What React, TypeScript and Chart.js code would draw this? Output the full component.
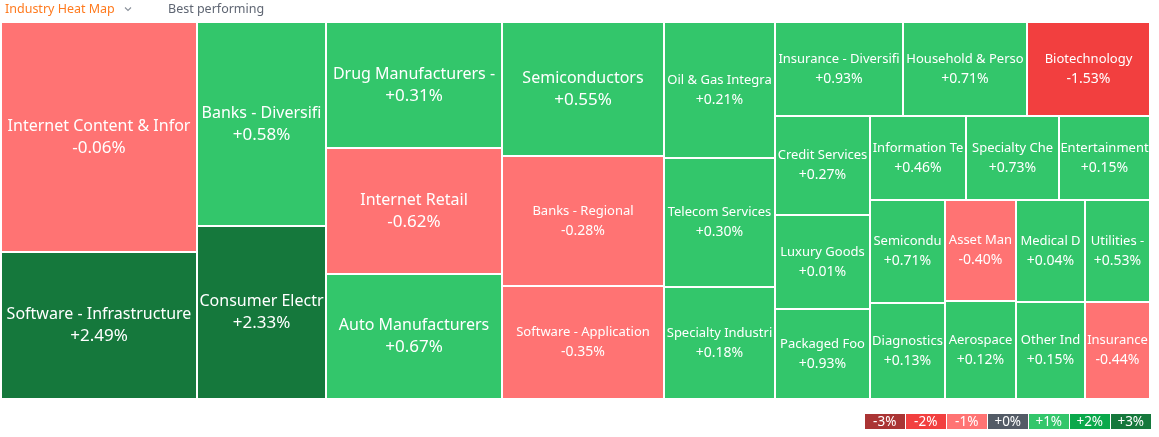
import React, { useEffect, useRef } from 'react';
import { Chart, registerables } from 'chart.js';

Chart.register(...registerables);

// ---- Data ----
const industries = [
  'Internet Content & Infor', 'Software - Infrastructure', 'Banks - Diversifi', 'Consumer Electr',
  'Drug Manufacturers -', 'Internet Retail', 'Auto Manufacturers', 'Semiconductors',
  'Banks - Regional', 'Software - Application', 'Oil & Gas Integra', 'Telecom Services',
  'Specialty Industri', 'Insurance - Diversifi', 'Household & Perso', 'Biotechnology',
  'Credit Services', 'Luxury Goods', 'Packaged Foo', 'Information Te',
  'Specialty Che', 'Entertainment', 'Semicondu', 'Diagnostics',
  'Asset Man', 'Aerospace', 'Medical D', 'Utilities -',
  'Other Ind', 'Insurance',
];

// relative size (market cap weight) of each industry
const marketCaps = [
  450.8, 288.1, 264.1, 223.0,
  222.0, 220.9, 220.4, 217.1,
  210.3, 183.4, 151.0, 143.2,
  124.3, 120.1, 116.5, 115.9,
  93.6, 89.2, 85.5, 80.9,
  78.7, 76.7, 76.6, 72.3,
  71.6, 70.1, 70.0, 66.9,
  66.1, 63.2,
];

// daily change in percent
const changes = [
  -0.06, 2.49, 0.58, 2.33,
  0.31, -0.62, 0.67, 0.55,
  -0.28, -0.35, 0.21, 0.30,
  0.18, 0.93, 0.71, -1.53,
  0.27, 0.01, 0.93, 0.46,
  0.73, 0.15, 0.71, 0.13,
  -0.40, 0.12, 0.04, 0.53,
  0.15, -0.44,
];

const legendLabels = ['-3%', '-2%', '-1%', '+0%', '+1%', '+2%', '+3%'];
const legendColors = ['#aa3434', '#f23f3f', '#ff7373', '#535b66', '#33c66b', '#0aa84b', '#15783c'];

const FONT = '"Noto Sans", "Open Sans", sans-serif';

function colorFor(c: number): string {
  if (c === 0) return legendColors[3];
  const step = Math.min(3, Math.ceil(Math.abs(c)));
  return c > 0 ? legendColors[3 + step] : legendColors[3 - step];
}

function formatChange(c: number): string {
  return (c >= 0 ? '+' : '') + c.toFixed(2) + '%';
}

type R = { x: number; y: number; w: number; h: number };

// squarified treemap layout (rows laid along the shorter side)
function squarify(areas: number[], x: number, y: number, w: number, h: number): R[] {
  const rects: R[] = new Array(areas.length);
  const rect = { x, y, w, h };

  const worst = (row: number[], rowArea: number, len: number) => {
    let aMax = 0;
    let aMin = Infinity;
    row.forEach((i) => {
      aMax = Math.max(aMax, areas[i]);
      aMin = Math.min(aMin, areas[i]);
    });
    const s2 = rowArea * rowArea;
    const f = len * len;
    return s2 ? Math.max((f * aMax) / s2, s2 / (f * aMin)) : Infinity;
  };

  const position = (row: number[], rowArea: number, len: number, flush: boolean) => {
    const horizontal = len === rect.w;
    let other = len ? rowArea / len : 0;
    const otherMax = horizontal ? rect.h : rect.w;
    if (flush || other > otherMax) other = otherMax;
    let last = horizontal ? rect.x : rect.y;
    const end = horizontal ? rect.x + rect.w : rect.y + rect.h;
    row.forEach((idx, k) => {
      const step = other ? areas[idx] / other : 0;
      const remain = end - last;
      const l = k === row.length - 1 || remain < step ? remain : step;
      rects[idx] = horizontal
        ? { x: last, y: rect.y, w: l, h: other }
        : { x: rect.x, y: last, w: other, h: l };
      last += l;
    });
    if (horizontal) {
      rect.y += other;
      rect.h -= other;
    } else {
      rect.x += other;
      rect.w -= other;
    }
  };

  let len = Math.min(rect.w, rect.h);
  let row: number[] = [];
  let rowArea = 0;
  let best = Infinity;
  let i = 0;
  while (i < areas.length) {
    row.push(i);
    rowArea += areas[i];
    const s = worst(row, rowArea, len);
    if (s <= best) {
      i++;
      best = s;
    } else {
      row.pop();
      rowArea -= areas[i];
      position(row, rowArea, len, false);
      len = Math.min(rect.w, rect.h);
      row = [];
      rowArea = 0;
      best = Infinity;
    }
  }
  if (row.length) position(row, rowArea, len, true);
  return rects;
}

const treemapPlugin = {
  id: 'industryTreemap',
  afterDatasetsDraw(chart: any) {
    const xs = chart.scales.x;
    const ys = chart.scales.y;
    const left = xs.getPixelForValue(0);
    const right = xs.getPixelForValue(1);
    const top = ys.getPixelForValue(1);
    const bottom = ys.getPixelForValue(0);
    const W = right - left;
    const H = bottom - top;

    const order = marketCaps.map((_, i) => i).sort((a, b) => marketCaps[b] - marketCaps[a]);
    const total = marketCaps.reduce((s, v) => s + v, 0);
    const areas = order.map((i) => (marketCaps[i] / total) * W * H);
    const rects = squarify(areas, left, top, W, H);

    const ctx: CanvasRenderingContext2D = chart.ctx;
    ctx.save();
    rects.forEach((r, k) => {
      const idx = order[k];
      const x0 = Math.round(r.x) + 1;
      const y0 = Math.round(r.y) + 1;
      const x1 = Math.round(r.x + r.w) - 1;
      const y1 = Math.round(r.y + r.h) - 1;
      ctx.fillStyle = colorFor(changes[idx]);
      ctx.fillRect(x0, y0, x1 - x0, y1 - y0);

      const big = r.w * r.h >= 21400;
      const nameSize = big ? 16 : 13;
      const valSize = big ? 17 : 14;
      const off = big ? 11 : 10;
      const cx = (x0 + x1) / 2;
      const cy = (y0 + y1) / 2;
      ctx.save();
      ctx.beginPath();
      ctx.rect(x0, y0, x1 - x0, y1 - y0);
      ctx.clip();
      ctx.fillStyle = '#ffffff';
      ctx.textAlign = 'center';
      ctx.textBaseline = 'middle';
      ctx.font = `${nameSize}px ${FONT}`;
      ctx.fillText(industries[idx], cx, cy - off);
      ctx.font = `${valSize}px ${FONT}`;
      ctx.fillText(formatChange(changes[idx]), cx, cy + off);
      ctx.restore();
    });
    ctx.restore();
  },
};

export default function App() {
  const ref = useRef<HTMLCanvasElement>(null);

  useEffect(() => {
    document.body.style.margin = '0';
    const canvas = ref.current;
    if (!canvas) return;
    const chart = new Chart(canvas, {
      type: 'scatter',
      data: { datasets: [{ label: 'Industry', data: [] }] },
      options: {
        responsive: false,
        maintainAspectRatio: false,
        animation: false,
        events: [],
        layout: { padding: { left: 1, top: 22, right: 9, bottom: 38 } },
        plugins: { legend: { display: false }, tooltip: { enabled: false }, title: { display: false } },
        scales: {
          x: { type: 'linear', min: 0, max: 1, display: false },
          y: { type: 'linear', min: 0, max: 1, display: false },
        },
      },
      plugins: [treemapPlugin],
    } as any);
    return () => chart.destroy();
  }, []);

  return (
    <div
      style={{
        position: 'fixed',
        left: 0,
        top: 0,
        width: 1159,
        height: 437,
        background: '#ffffff',
        fontFamily: FONT,
        overflow: 'hidden',
      }}
    >
      <canvas ref={ref} width={1159} height={437} style={{ position: 'absolute', left: 0, top: 0, display: 'block' }} />
      <div style={{ position: 'absolute', left: 5, top: 0, height: 18, lineHeight: '18px', fontSize: 12.5, color: '#ff7a1e', whiteSpace: 'nowrap' }}>
        Industry Heat Map
      </div>
      <svg style={{ position: 'absolute', left: 124, top: 6 }} width={8} height={6} viewBox="0 0 8 6">
        <polyline points="1,1.5 4,4.5 7,1.5" fill="none" stroke="#8a909a" strokeWidth={1.1} />
      </svg>
      <div style={{ position: 'absolute', left: 168, top: 0, height: 18, lineHeight: '18px', fontSize: 12.5, color: '#5f6673', whiteSpace: 'nowrap' }}>
        Best performing
      </div>
      <div style={{ position: 'absolute', left: 865, top: 414, display: 'flex', gap: 1.5 }}>
        {legendLabels.map((lab, i) => (
          <div
            key={lab}
            style={{
              width: 39.5,
              height: 15,
              lineHeight: '15px',
              background: legendColors[i],
              color: '#ffffff',
              fontSize: 13.5,
              textAlign: 'center',
            }}
          >
            {lab}
          </div>
        ))}
      </div>
    </div>
  );
}
